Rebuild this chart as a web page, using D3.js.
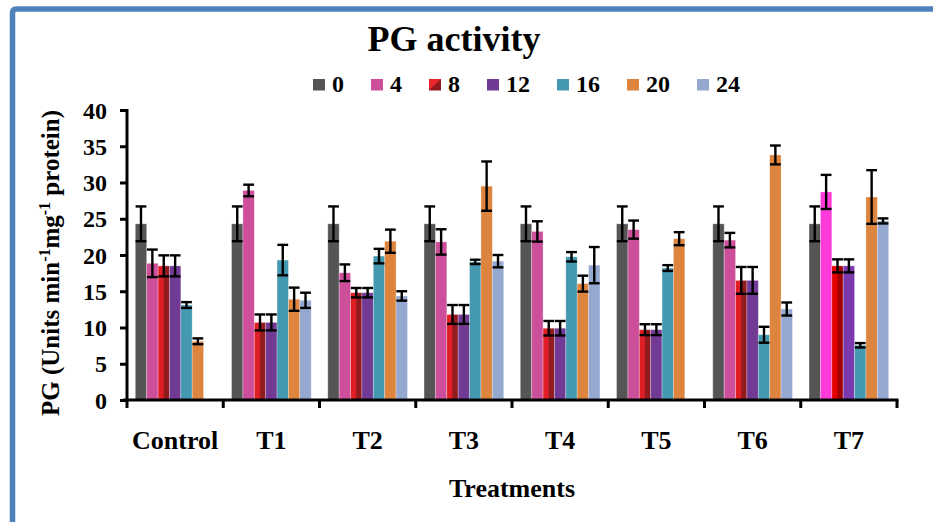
<!DOCTYPE html>
<html>
<head>
<meta charset="utf-8">
<script src="https://cdn.jsdelivr.net/npm/d3@7"></script>
<style>
  body { margin: 0; background: #fff; }
  text { font-family: "Liberation Serif", "Times New Roman", serif; font-weight: bold; fill: #000; }
</style>
</head>
<body>
<div id="chart"></div>
<script>
const categories = ["Control", "T1", "T2", "T3", "T4", "T5", "T6", "T7"];
const hours = ["0", "4", "8", "12", "16", "20", "24"];

// mean values per sampling hour, one entry per treatment
const h0  = [24.3, 24.3, 24.3, 24.3, 24.3, 24.3, 24.3, 24.3];
const h4  = [18.85, 28.9, 17.55, 21.8, 23.25, 23.5, 22.05, 28.7];
const h8  = [18.5, 10.7, 14.8, 11.8, 9.9, 9.7, 16.5, 18.5];
const h12 = [18.5, 10.7, 14.8, 11.8, 9.9, 9.7, 16.5, 18.5];
const h16 = [13.1, 19.3, 19.85, 19.05, 19.75, 18.2, 9.0, 7.55];
const h20 = [8.1, 13.9, 21.9, 29.5, 16.05, 22.25, 33.8, 28.0];
const h24 = [null, 13.75, 14.35, 19.15, 18.6, null, 12.55, 24.7];

// error bar half widths
const e0  = [2.4, 2.4, 2.4, 2.4, 2.4, 2.4, 2.4, 2.4];
const e4  = [1.9, 0.8, 1.15, 1.75, 1.4, 1.25, 1.0, 2.35];
const e8  = [1.45, 1.1, 0.65, 1.3, 1.0, 0.75, 1.85, 0.9];
const e12 = [1.45, 1.1, 0.65, 1.3, 1.0, 0.75, 1.85, 0.9];
const e16 = [0.4, 2.1, 1.0, 0.3, 0.65, 0.4, 1.1, 0.3];
const e20 = [0.4, 1.6, 1.6, 3.4, 1.1, 0.9, 1.3, 3.7];
const e24 = [0, 1.05, 0.65, 0.85, 2.5, 0, 0.9, 0.35];

const yTicks = [0, 5, 10, 15, 20, 25, 30, 35, 40];

const seriesVals = [h0, h4, h8, h12, h16, h20, h24];
const seriesErr = [e0, e4, e8, e12, e16, e20, e24];

const colors = ["#555555", "#CD4F9B", "url(#redGrad)", "#713A95", "#4499B0", "#DD843E", "#95A9D0"];
// the last treatment was drawn with brighter fills in the original
const colorsT7 = ["#555555", "#FF3ADA", "url(#redGradT7)", "#7C39AE", "#4499B0", "#DD843E", "#95A9D0"];

const W = 933, H = 522;
const svg = d3.select("#chart").append("svg")
  .attr("width", W)
  .attr("height", H);

const defs = svg.append("defs");
function grad(id, light, dark, x2, y2) {
  const g = defs.append("linearGradient").attr("id", id)
    .attr("x1", 0).attr("y1", 0).attr("x2", x2).attr("y2", y2);
  g.append("stop").attr("offset", "0%").attr("stop-color", light);
  g.append("stop").attr("offset", "42%").attr("stop-color", light);
  g.append("stop").attr("offset", "56%").attr("stop-color", dark);
  g.append("stop").attr("offset", "100%").attr("stop-color", dark);
}
grad("redGrad", "#E01E26", "#921B20", 1, 0);
grad("redGradT7", "#E60000", "#A30000", 1, 0);
grad("redLegend", "#E8262C", "#8E1A1E", 1, 1);

// outer frame
svg.append("path")
  .attr("d", `M12.5,${H + 10} L12.5,13 Q12.5,9 16.5,9 L${W + 10},9`)
  .attr("fill", "none")
  .attr("stroke", "#4F81BD")
  .attr("stroke-width", 5.5);

const x0 = 127, x1 = 897, yTop = 110, yBot = 400;

const x = d3.scaleBand().domain(categories).range([x0, x1]).padding(0);
const xs = d3.scaleBand().domain(hours)
  .range([8.3, x.bandwidth() - 8.3]).padding(0);
const y = d3.scaleLinear().domain([0, 40]).range([yBot, yTop]);

// title
svg.append("text")
  .attr("x", 454)
  .attr("y", 51)
  .attr("text-anchor", "middle")
  .style("font-size", "36px")
  .text("PG activity");

// legend
const legend = svg.append("g").attr("transform", "translate(313, 0)");
let lx = 0;
hours.forEach((h, i) => {
  legend.append("rect")
    .attr("x", lx).attr("y", 79)
    .attr("width", 12).attr("height", 11.5)
    .attr("fill", i === 2 ? "url(#redLegend)" : colors[i]);
  const t = legend.append("text")
    .attr("x", lx + 19).attr("y", 92)
    .style("font-size", "24px")
    .text(h);
  lx += 19 + t.node().getComputedTextLength() + 27;
});

// bars
const data = [];
categories.forEach((c, ci) => {
  hours.forEach((h, si) => {
    const v = seriesVals[si][ci];
    if (v === null) return;
    data.push({ cat: c, ci: ci, hour: h, si: si, value: v, err: seriesErr[si][ci] });
  });
});

const g = svg.append("g");
g.selectAll("rect.bar")
  .data(data)
  .enter().append("rect")
  .attr("class", "bar")
  .attr("x", d => x(d.cat) + xs(d.hour))
  .attr("y", d => y(d.value))
  .attr("width", xs.bandwidth())
  .attr("height", d => y(0) - y(d.value))
  .attr("fill", d => (d.ci === 7 ? colorsT7 : colors)[d.si])
  .attr("stroke", "#fff")
  .attr("stroke-opacity", 0.35)
  .attr("stroke-width", 0.8);

// error bars
const eb = g.selectAll("g.err")
  .data(data.filter(d => d.err > 0))
  .enter().append("g")
  .attr("class", "err")
  .attr("stroke", "#000")
  .attr("stroke-width", 2.4);
eb.append("line")
  .attr("x1", d => x(d.cat) + xs(d.hour) + xs.bandwidth() / 2)
  .attr("x2", d => x(d.cat) + xs(d.hour) + xs.bandwidth() / 2)
  .attr("y1", d => y(d.value - d.err))
  .attr("y2", d => y(d.value + d.err));
[1, -1].forEach(s => {
  eb.append("line")
    .attr("x1", d => x(d.cat) + xs(d.hour) + 0.3)
    .attr("x2", d => x(d.cat) + xs(d.hour) + xs.bandwidth() - 0.3)
    .attr("y1", d => y(d.value + s * d.err))
    .attr("y2", d => y(d.value + s * d.err));
});

// y axis
const yAxis = svg.append("g")
  .attr("transform", `translate(${x0},0)`)
  .call(d3.axisLeft(y).tickValues(yTicks).tickSize(7).tickPadding(13).tickSizeOuter(0));
yAxis.select(".domain").attr("stroke", "#000").attr("stroke-width", 3)
  .attr("d", `M0,${yTop - 1}V${yBot + 1.5}`);
yAxis.selectAll(".tick line").attr("stroke", "#000").attr("stroke-width", 3);
yAxis.selectAll(".tick text")
  .style("font-size", "24px")
  .style("font-family", "'Liberation Serif', serif")
  .attr("dy", "0.34em");

// x axis
const xAxis = svg.append("g")
  .attr("transform", `translate(0,${yBot})`);
xAxis.append("line")
  .attr("x1", x0 - 4).attr("x2", x1 + 1.5)
  .attr("y1", 0).attr("y2", 0)
  .attr("stroke", "#000").attr("stroke-width", 3);
const bounds = categories.map(c => x(c)).concat([x1]);
xAxis.selectAll("line.tk")
  .data(bounds)
  .enter().append("line")
  .attr("class", "tk")
  .attr("x1", d => d).attr("x2", d => d)
  .attr("y1", 0).attr("y2", 8)
  .attr("stroke", "#000").attr("stroke-width", 3);
xAxis.selectAll("text.cat")
  .data(categories)
  .enter().append("text")
  .attr("class", "cat")
  .attr("x", d => x(d) + x.bandwidth() / 2)
  .attr("y", 49)
  .attr("text-anchor", "middle")
  .style("font-size", "26px")
  .text(d => d);

// axis titles
svg.append("text")
  .attr("x", (x0 + x1) / 2)
  .attr("y", 497)
  .attr("text-anchor", "middle")
  .style("font-size", "26px")
  .text("Treatments");

const yl = svg.append("text")
  .attr("transform", "translate(59,263) rotate(-90)")
  .attr("text-anchor", "middle")
  .style("font-size", "25px");
yl.append("tspan").text("PG (Units min");
yl.append("tspan").attr("dy", -9).style("font-size", "16px").text("-1");
yl.append("tspan").attr("dy", 9).text("mg");
yl.append("tspan").attr("dy", -9).style("font-size", "16px").text("-1");
yl.append("tspan").attr("dy", 9).text(" protein)");
</script>
</body>
</html>
